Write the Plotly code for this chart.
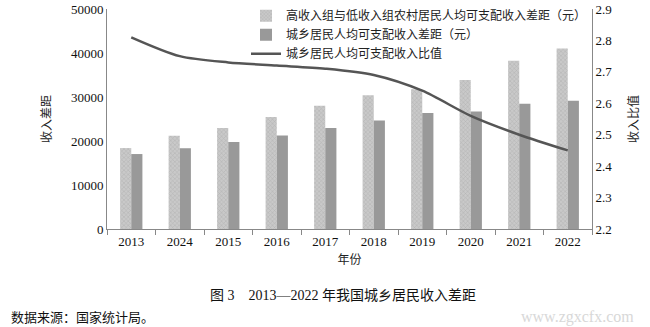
import plotly.graph_objects as go

years = ["2013", "2024", "2015", "2016", "2017", "2018", "2019", "2020", "2021", "2022"]
rural_gap = [18396, 21179, 22928, 25441, 27997, 30376, 31787, 33839, 38226, 41051]
urban_rural_gap = [17037, 18355, 19773, 21253, 22964, 24634, 26338, 26703, 28481, 29150]
ratio = [2.81, 2.75, 2.73, 2.72, 2.71, 2.69, 2.64, 2.56, 2.50, 2.45]

names = ["高收入组与低收入组农村居民人均可支配收入差距（元）",
         "城乡居民人均可支配收入差距（元）",
         "城乡居民人均可支配收入比值"]

FONT = "Liberation Serif, Noto Sans CJK SC, serif"

fig = go.Figure()
fig.add_trace(go.Bar(
    x=years, y=rural_gap, name=names[0],
    marker=dict(color="#c9c9c9", line=dict(width=0),
                pattern=dict(shape="x", fgcolor="#9a9a9a", size=3, solidity=0.3)),
))
fig.add_trace(go.Bar(
    x=years, y=urban_rural_gap, name=names[1],
    marker=dict(color="#999999", line=dict(width=0)),
))
fig.add_trace(go.Scatter(
    x=years, y=ratio, name=names[2], yaxis="y2", mode="lines",
    line=dict(color="#555555", width=2.5, shape="spline", smoothing=0.8),
))

fig.update_layout(
    width=650, height=327,
    margin=dict(l=107, r=58, t=9, b=98, autoexpand=False),
    paper_bgcolor="white", plot_bgcolor="white",
    font=dict(family=FONT, size=12, color="#222222"),
    barmode="group", bargap=0.54, bargroupgap=0,
    showlegend=True,
    legend=dict(x=1.0, xanchor="right", y=1.035, yanchor="top",
                bgcolor="rgba(0,0,0,0)", font=dict(size=12, family=FONT),
                tracegroupgap=0, itemwidth=30),
    xaxis=dict(
        type="category", showline=True, linecolor="#888888", linewidth=1,
        ticks="outside", tickson="boundaries", ticklen=5, tickcolor="#888888",
        tickfont=dict(size=13, family=FONT, color="#111111"),
        title=dict(text="年份", font=dict(size=12), standoff=8),
        showgrid=False,
    ),
    yaxis=dict(
        range=[0, 50000], dtick=10000, tickformat="d", showline=True, linecolor="#888888",
        linewidth=1, showgrid=False, zeroline=False, ticks="",
        tickfont=dict(size=13, family=FONT, color="#111111"),
        title=dict(text="收入差距", font=dict(size=12), standoff=16),
    ),
    yaxis2=dict(
        range=[2.2, 2.9], dtick=0.1, tickformat=".1f", overlaying="y", side="right",
        showline=True, linecolor="#888888", linewidth=1, showgrid=False,
        zeroline=False, ticks="",
        tickfont=dict(size=13, family=FONT, color="#111111"),
        title=dict(text="收入比值", font=dict(size=12), standoff=18),
    ),
)

fig.add_annotation(text="图 3　2013—2022 年我国城乡居民收入差距", xref="paper", yref="paper",
                   x=0.487, y=-0.3045, xanchor="center", yanchor="middle", showarrow=False,
                   font=dict(size=14, family=FONT, color="#111111"))
fig.add_annotation(text="数据来源：国家统计局。", xref="paper", x=-98/485, xanchor="left",
                   yref="paper", y=-0.40, yanchor="middle", showarrow=False,
                   font=dict(size=13, family=FONT, color="#111111"))
fig.add_annotation(text="www.zgxcfx.com", xref="paper", x=1.09, xanchor="right",
                   yref="paper", y=-0.40, yanchor="middle", showarrow=False,
                   font=dict(size=16, family=FONT, color="#d8d8d8"))

fig.write_html("out.html")
